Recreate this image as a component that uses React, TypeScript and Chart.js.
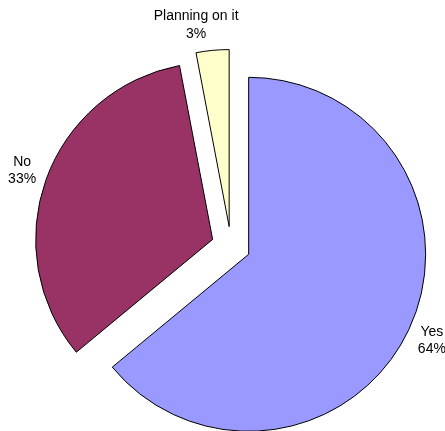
import React, { useEffect, useRef } from "react";
import { Chart, registerables } from "chart.js";

Chart.register(...registerables);

const categories = ["Yes", "No", "Planning on it"];
const values = [64, 33, 3];
const colors = ["#9999FF", "#993366", "#FFFFCC"];

const EXPLODE = 19.5;
const LABEL_DIST = 222;
const FONT = '14px "Liberation Sans", Arial, sans-serif';

const explodePlugin = {
  id: "explode",
  beforeDatasetDraw(chart: any, args: any) {
    const ctx = chart.ctx;
    const meta = args.meta;
    meta.data.forEach((arc: any) => {
      const mid = (arc.startAngle + arc.endAngle) / 2;
      ctx.save();
      ctx.translate(Math.cos(mid) * EXPLODE, Math.sin(mid) * EXPLODE);
      arc.draw(ctx, chart.chartArea);
      ctx.restore();
    });
    return false;
  },
};

const labelPlugin = {
  id: "outLabels",
  afterDatasetsDraw(chart: any) {
    const ctx = chart.ctx;
    const meta = chart.getDatasetMeta(0);
    const labels = chart.data.labels as string[];
    const data = chart.data.datasets[0].data as number[];
    ctx.save();
    ctx.font = FONT;
    ctx.fillStyle = "#000";
    ctx.textAlign = "center";
    ctx.textBaseline = "middle";
    meta.data.forEach((arc: any, i: number) => {
      const mid = (arc.startAngle + arc.endAngle) / 2;
      let x = arc.x + Math.cos(mid) * LABEL_DIST;
      const y = arc.y + Math.sin(mid) * LABEL_DIST;
      if (i === 2) x -= 14;
      ctx.fillText(labels[i], x, y - 8.8);
      ctx.fillText(data[i] + "%", x, y + 8.8);
    });
    ctx.restore();
  },
};

export default function App() {
  const ref = useRef<HTMLCanvasElement>(null);
  useEffect(() => {
    if (!ref.current) return;
    const chart = new Chart(ref.current, {
      type: "pie",
      data: {
        labels: categories,
        datasets: [
          {
            data: values,
            backgroundColor: colors,
            borderColor: "#000000",
            borderWidth: 1,
            borderJoinStyle: "miter",
            clip: false,
          } as any,
        ],
      },
      options: {
        responsive: false,
        animation: false,
        radius: 177,
        layout: { padding: { left: 17, right: 0, top: 61, bottom: 0 } },
        plugins: {
          legend: { display: false },
          tooltip: { enabled: false },
        },
        events: [],
      } as any,
      plugins: [explodePlugin, labelPlugin],
    });
    return () => chart.destroy();
  }, []);
  return (
    <canvas
      ref={ref}
      width={445}
      height={431}
      style={{ position: "absolute", left: 0, top: 0, width: 445, height: 431 }}
    />
  );
}
